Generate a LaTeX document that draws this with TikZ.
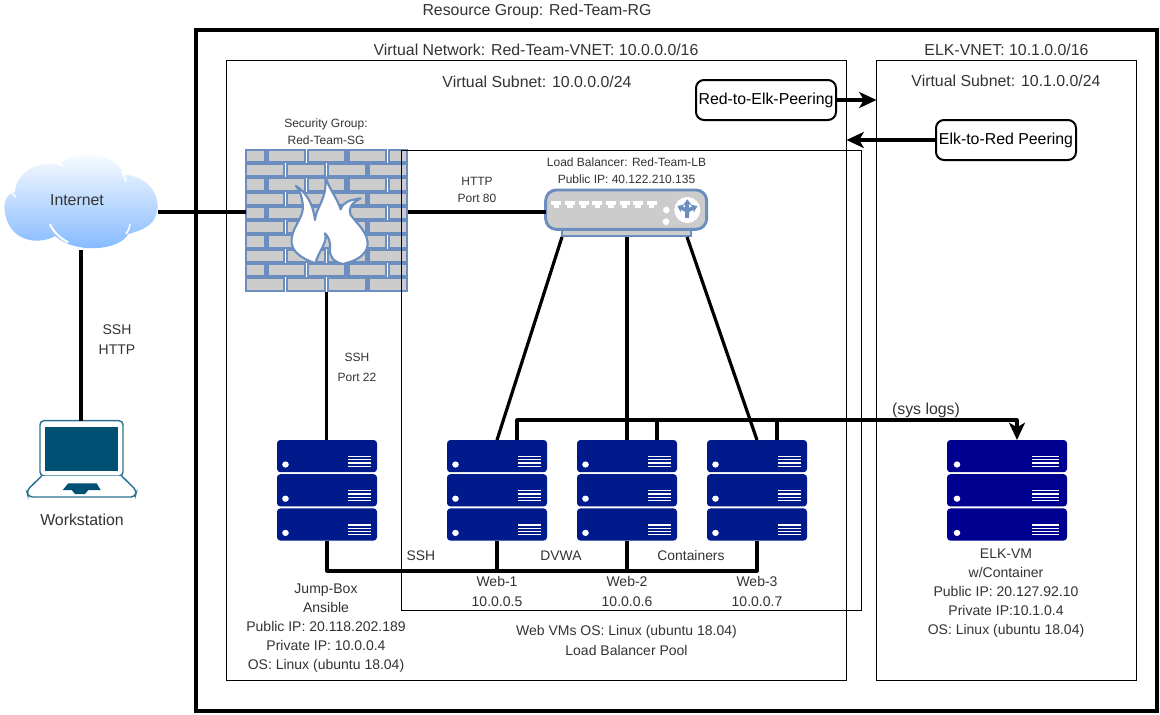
\documentclass[tikz,border=0pt]{standalone}
\usepackage{fontspec}
\setmainfont{Liberation Sans}
\usetikzlibrary{arrows.meta,calc}
\definecolor{txt}{HTML}{333333}
\definecolor{fwblue}{HTML}{6C8EBF}
\definecolor{brick}{HTML}{CCCCCC}
\definecolor{webnavy}{HTML}{001A8C}
\definecolor{elknavy}{HTML}{000090}
\definecolor{lapfill}{HTML}{005073}
\definecolor{lapline}{HTML}{2B7292}
\definecolor{cloudlow}{HTML}{7EB6FF}
\tikzset{
  x=0.75pt,y=-0.75pt,
  box/.style 2 args={minimum width=#1*0.75pt,minimum height=#2*0.75pt,inner sep=0pt,outer sep=0pt},
  lab/.style={font=\fontsize{11.9}{14.25}\selectfont,text=txt,inner sep=0pt,align=center},
  smalllab/.style={font=\fontsize{9}{12.6}\selectfont,text=txt,inner sep=0pt,align=center},
  midlab/.style={font=\fontsize{10.5}{15}\selectfont,text=txt,inner sep=0pt,align=center},
  frame/.style={draw=black,line width=0.75pt,fill=none},
  wire/.style={draw=black,line width=2.4pt,line join=round},
  arrowwire/.style={wire,-{Stealth[length=13pt,width=12pt,inset=3.5pt]}},
  peerbox/.style={draw=black,line width=1.5pt,rounded corners=6pt,fill=white,font=\fontsize{11.9}{14}\selectfont,text=black,inner sep=0pt,outer sep=0pt,minimum width=105pt,minimum height=30pt},
}
\newcommand{\srvdraw}[5]{% name, center x, width, colour, dot offset x 8
  \node[box={#3}{101}] (#1) at (#2,490.5) {};
  \foreach \r in {0,34.2,68.4}{
    \fill[#4,rounded corners=2.5pt] ($(#1.north west)+(0,\r)$) rectangle ++(#3,32.2);
    \fill[white] ($(#1.north west)+(#5/8,\r+24.5)$) circle[x radius=3.3,y radius=3.1];
    \foreach \l in {16.5,19.8,23.1,26.4}
      \draw[white,line width=1pt] ($(#1.north west)+(#3*0.71,\r+\l)$) -- ++(#3*0.225,0);
  }
}
\begin{document}
\begin{tikzpicture}
\useasboundingbox (0,0) rectangle (1160,714);
\fill[white] (0,0) rectangle (1160,714);

% containers
\node[box={961}{681},draw=black,line width=3pt] (rg) at (676.5,370.5) {};
\node[box={620}{620},frame] (vnet) at (536.5,370.5) {};
\node[box={260}{620},frame] (elkvnet) at (1006.5,370.5) {};

% firewall
\node[box={162}{143}] (fw) at (326.5,220.5) {};
\begin{scope}
  \foreach \i in {0,2,4,6,8}{
    \pgfmathsetmacro{\yy}{149.8+\i*14.27}
    \foreach \a/\b in {246/265,267.5/305,308/345.5,348.5/386,389/407}
      \draw[fwblue,line width=1.6pt,fill=brick] (\a,\yy) rectangle (\b,\yy+12.4);
    \pgfmathsetmacro{\yz}{149.8+(\i+1)*14.27}
    \foreach \a/\b in {246/284,287/325,328/366.5,369/407}
      \draw[fwblue,line width=1.6pt,fill=brick] (\a,\yz) rectangle (\b,\yz+12.4);
  }
\end{scope}
\begin{scope}[shift={(0,110)},scale=1/3]
  \draw[fwblue,line width=1.6pt,fill=white,line join=round]
    (975,195) .. controls (985,235) and (1010,260) .. (1022,298)
    .. controls (1030,275) and (1050,270) .. (1082,265)
    .. controls (1055,280) and (1045,290) .. (1052,315)
    .. controls (1075,345) and (1105,370) .. (1103,405)
    .. controls (1098,440) and (1060,455) .. (1028,462)
    .. controls (1000,455) and (988,440) .. (990,415)
    .. controls (992,395) and (985,380) .. (975,370)
    .. controls (985,395) and (955,425) .. (946,460)
    .. controls (905,445) and (870,425) .. (875,385)
    .. controls (880,345) and (915,320) .. (908,280)
    .. controls (905,260) and (900,240) .. (888,228)
    .. controls (915,245) and (938,275) .. (945,330)
    .. controls (948,290) and (985,265) .. (975,195) -- cycle;
\end{scope}

% load balancer pool frame
\node[box={460}{460},frame] (pool) at (631.5,380.5) {};

% cloud
\node[box={154}{95}] (cloud) at (81,202.5) {};
\begin{scope}[shift={(0,110)},scale=1/3]
  \path[top color=white,bottom color=cloudlow]
    (45,245) .. controls (50,180) and (125,150) .. (178,165)
    .. controls (205,125) and (340,115) .. (372,195)
    .. controls (440,195) and (485,255) .. (470,310)
    .. controls (460,350) and (420,362) .. (385,372)
    .. controls (360,420) and (230,435) .. (165,378)
    .. controls (120,405) and (25,400) .. (14,300)
    .. controls (10,270) and (25,250) .. (45,245) -- cycle;
  \draw[white,line width=1.2pt] (33,243) -- (47,262);
  \draw[white,line width=1.2pt] (172,160) -- (195,170);
  \draw[white,line width=1.2pt] (365,185) .. controls (372,195) and (376,205) .. (378,215);
  \draw[white,line width=1.5pt] (150,343) .. controls (160,365) and (180,385) .. (205,397);
  \draw[white,line width=1.2pt] (390,343) .. controls (388,355) and (384,365) .. (378,372);
\end{scope}
\node[lab] (inettext) at (77,200) {Internet};

% laptop
\node[box={110}{76}] (laptop) at (81,459) {};
\begin{scope}[shift={(0,400)},scale=1/3]
  \draw[lapline,line width=1.1pt,fill=white,rounded corners=3pt] (120,62) rectangle (369,228);
  \fill[lapfill] (135,80) rectangle (353,213);
  \draw[lapline,line width=1.1pt,fill=white,rounded corners=3pt]
    (125,228) -- (80,272) -- (85,291) -- (405,291) -- (410,272) -- (365,228);
  \fill[lapfill] (205,250) -- (290,250) -- (302,270) -- (265,270) -- (255,282) -- (225,282) -- (215,270) -- (188,270) -- cycle;
\end{scope}

% load balancer
\node[box={161}{47}] (lb) at (626.5,213.5) {};
\begin{scope}[shift={(530,140)},scale=1/3]
  \fill[brick] (97,262) rectangle (483,287);
  \draw[fwblue,line width=1.5pt] (97,262) rectangle (483,287);
  \draw[fwblue,line width=2.2pt,fill=brick,rounded corners=8pt] (47,150) rectangle (530,268);
  \foreach \k in {0,...,7}{
    \fill[white] ({64+\k*40.9},184) rectangle ++(30,12);
    \fill[white] ({71+\k*40.9},196) rectangle ++(16,7);
  }
  \fill[white] (409,210) circle[radius=10];
  \fill[white] (408,245) circle[radius=10];
  \fill[white] (472,210) circle[radius=39];
  \draw[fwblue,line width=2.8pt,-{Stealth[length=4.5pt,width=6.5pt]}] (472,235) -- (472,178);
  \draw[fwblue,line width=2.8pt,-{Stealth[length=4.5pt,width=6.5pt]}] (472,226) -- (472,212) -- (442,198);
  \draw[fwblue,line width=2.8pt,-{Stealth[length=4.5pt,width=6.5pt]}] (472,226) -- (472,212) -- (502,198);
\end{scope}

% servers
\srvdraw{jump}{327}{100}{webnavy}{68}
\srvdraw{w1}{497}{100}{webnavy}{68}
\srvdraw{w2}{627}{100}{webnavy}{68}
\srvdraw{w3}{757}{100}{webnavy}{68}
\srvdraw{elk}{1007}{120}{elknavy}{80}

% peering
\node[peerbox] (r2e) at (766,100) {Red-to-Elk-Peering};
\node[peerbox] (e2r) at (1006,140) {Elk-to-Red Peering};

% connectors
\draw[wire] (cloud.-7) -- (fw.west |- cloud.-7);
\draw[wire] (cloud.south) -- (laptop.north);
\draw[wire] (fw.6.7) -- (lb.west |- fw.6.7);
\draw[wire] (fw.south) -- (fw.south |- jump.north);
\draw[wire] ([xshift=12pt]lb.south west) -- (w1.north);
\draw[wire] (w2.north |- lb.south) -- (w2.north);
\draw[wire] ([xshift=-15pt]lb.south east) -- (w3.north);
\draw[wire] (jump.south) -- ++(0,30) -| (w3.south);
\draw[wire] (w1.south) -- ++(0,30);
\draw[wire] (w2.south) -- ++(0,30);
\draw[arrowwire] ([xshift=15pt]w1.north) -- ++(0,-20) -| ([xshift=7.5pt]elk.north);
\draw[wire] ([xshift=22.5pt]w2.north) -- ++(0,-20);
\draw[wire] ([xshift=15pt]w3.north) -- ++(0,-20);
\draw[arrowwire] (r2e.east) -- (elkvnet.west |- r2e.east);
\draw[arrowwire] (e2r.west) -- (vnet.east |- e2r.west);

% labels
\node[lab] (t1) at (537,11) {Resource Group: Red-Team-RG};
\node[lab] (t2) at (536,50) {Virtual Network: Red-Team-VNET: 10.0.0.0/16};
\node[lab] (t3) at (537,82) {Virtual Subnet: 10.0.0.0/24};
\node[lab] (t4) at (1006.5,50) {ELK-VNET: 10.1.0.0/16};
\node[lab] (t5) at (1006,81) {Virtual Subnet: 10.1.0.0/24};
\node[smalllab] (t6) at (326,131.5) {Security Group:\\Red-Team-SG};
\node[smalllab] (t7) at (477,190) {HTTP\\Port 80};
\node[smalllab] (t8) at (626.5,170.5) {Load Balancer: Red-Team-LB\\Public IP: 40.122.210.135};
\node[midlab] (t9) at (117,340) {SSH\\HTTP};
\node[smalllab,font=\fontsize{9}{15}\selectfont] (t10) at (357,367) {SSH\\Port 22};
\node[lab] (t11) at (82,520) {Workstation};
\node[lab] (t12) at (926,410) {(sys logs)};
\node[smalllab,font=\fontsize{10.4}{14}\selectfont] (t13) at (421,556) {SSH};
\node[smalllab,font=\fontsize{10.4}{14}\selectfont] (t14) at (561,556) {DVWA};
\node[smalllab,font=\fontsize{10.4}{14}\selectfont] (t15) at (691,556) {Containers};
\node[smalllab,font=\fontsize{10.5}{15}\selectfont] (t16) at (497,591) {Web-1\\10.0.0.5};
\node[smalllab,font=\fontsize{10.5}{15}\selectfont] (t17) at (627,591) {Web-2\\10.0.0.6};
\node[smalllab,font=\fontsize{10.5}{15}\selectfont] (t18) at (757,591) {Web-3\\10.0.0.7};
\node[smalllab,font=\fontsize{10.5}{14.25}\selectfont] (t19) at (326,628) {Jump-Box\\Ansible\\Public IP: 20.118.202.189\\Private IP: 10.0.0.4\\OS: Linux (ubuntu 18.04)};
\node[smalllab,font=\fontsize{10.5}{15}\selectfont] (t20) at (626.5,640) {Web VMs OS: Linux (ubuntu 18.04)\\Load Balancer Pool};
\node[smalllab,font=\fontsize{10.5}{14.25}\selectfont] (t21) at (1006,593) {ELK-VM\\w/Container\\Public IP: 20.127.92.10\\Private IP:10.1.0.4\\OS: Linux (ubuntu 18.04)};
\end{tikzpicture}
\end{document}
